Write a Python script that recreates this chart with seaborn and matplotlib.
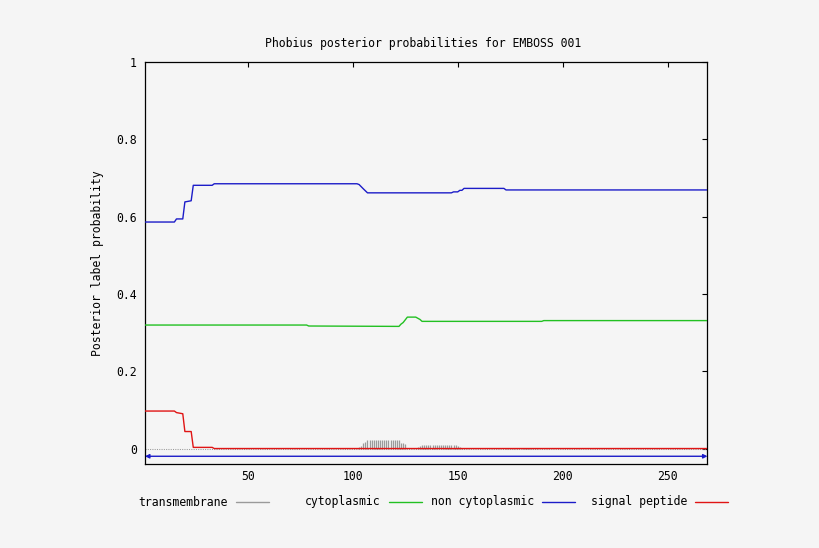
import matplotlib
matplotlib.use("Agg")
import matplotlib.pyplot as plt
import seaborn as sns
import pandas as pd
from matplotlib.lines import Line2D

# ---------------- data ----------------
seq_len = 269

sp_pos = [1, 15, 16, 19, 20, 23, 24, 33, 34, 269]
sp_val = [0.097, 0.097, 0.093, 0.090, 0.044, 0.044, 0.003, 0.003, 0.0, 0.0]

noncyto_pos = [1, 15, 16, 19, 20, 23, 24, 33, 34, 102, 103, 105, 107, 147, 148, 150,
               151, 152, 153, 172, 173, 269]
noncyto_val = [0.586, 0.586, 0.594, 0.594, 0.638, 0.641, 0.681, 0.681, 0.685, 0.685,
               0.683, 0.672, 0.6615, 0.6615, 0.664, 0.664, 0.668, 0.668, 0.673, 0.673,
               0.669, 0.669]

cyto_pos = [1, 78, 79, 122, 123, 124, 126, 130, 132, 133, 190, 191, 269]
cyto_val = [0.3195, 0.3195, 0.317, 0.316, 0.322, 0.326, 0.340, 0.340, 0.334, 0.329,
            0.329, 0.331, 0.331]

tm_pos = [103, 104, 105, 106, 107, 108, 109, 110, 111, 112, 113, 114, 115, 116, 117,
          118, 119, 120, 121, 122, 123, 124, 125,
          131, 132, 133, 134, 135, 136, 137, 138, 139, 140, 141, 142, 143, 144, 145,
          146, 147, 148, 149, 150, 151, 152,
          173, 174, 175, 176, 177, 178, 179, 181, 182, 183, 184, 185, 186, 187, 188]
tm_val = [0.004, 0.006, 0.015, 0.016, 0.022, 0.022, 0.022, 0.022, 0.022, 0.022, 0.022,
          0.022, 0.022, 0.022, 0.022, 0.022, 0.022, 0.022, 0.022, 0.022, 0.015, 0.015,
          0.013,
          0.003, 0.007, 0.008, 0.010, 0.010, 0.010, 0.010, 0.010, 0.010, 0.010, 0.010,
          0.010, 0.010, 0.010, 0.010, 0.010, 0.010, 0.009, 0.008, 0.007, 0.004, 0.002,
          0.002, 0.002, 0.002, 0.002, 0.002, 0.002, 0.002, 0.002, 0.002, 0.002, 0.002,
          0.002, 0.002, 0.002, 0.002]

x_ticks = [50, 100, 150, 200, 250]
y_ticks = [0, 0.2, 0.4, 0.6, 0.8, 1]
y_tick_labels = ["0", "0.2", "0.4", "0.6", "0.8", "1"]

legend_labels = ["transmembrane", "cytoplasmic", "non cytoplasmic", "signal peptide"]

title = "Phobius posterior probabilities for EMBOSS 001"
ylabel = "Posterior label probability"

# ---------------- style ----------------
BG = "#f5f5f5"
C_TM = "#9a9a9a"
C_CY = "#22c022"
C_NC = "#1c1cc8"
C_SP = "#e01414"
FS = 8.3

sns.set_theme(style="white")
plt.rcParams["font.family"] = ["DejaVu Sans Mono", "DejaVu Sans"]
plt.rcParams["axes.facecolor"] = BG
plt.rcParams["figure.facecolor"] = BG

W, H = 820, 548
fig = plt.figure(figsize=(W / 100, H / 100), dpi=100, facecolor=BG)
L, R, T, B = 145, 707.5, 62, 464
ax = fig.add_axes([L / W, 1 - B / H, (R - L) / W, (B - T) / H])
ax.set_facecolor(BG)

# baseline of zero-height impulses (dotted grey)
ax.axhline(0, color=C_TM, lw=0.75, ls=(0, (1, 1.2)), zorder=1)

# transmembrane impulses
ax.vlines(tm_pos, 0, tm_val, color=C_TM, lw=0.9, zorder=2)

df_cy = pd.DataFrame({"pos": cyto_pos, "p": cyto_val})
df_nc = pd.DataFrame({"pos": noncyto_pos, "p": noncyto_val})
df_sp = pd.DataFrame({"pos": sp_pos, "p": sp_val})
sns.lineplot(data=df_cy, x="pos", y="p", ax=ax, color=C_CY, lw=1.0, zorder=3)
sns.lineplot(data=df_nc, x="pos", y="p", ax=ax, color=C_NC, lw=1.0, zorder=3)
sns.lineplot(data=df_sp, x="pos", y="p", ax=ax, color=C_SP, lw=1.0, zorder=4)

# sequence-length arrow
ax.annotate("", xy=(seq_len, -0.02), xytext=(1, -0.02),
            arrowprops=dict(arrowstyle="<|-|>", color=C_NC, lw=1.0,
                            mutation_scale=6, shrinkA=0, shrinkB=0), zorder=5)

ax.set_xlim(1, seq_len)
ax.set_ylim(-0.04, 1)
ax.set_xticks(x_ticks)
ax.set_xticklabels([str(t) for t in x_ticks])
ax.set_yticks(y_ticks)
ax.set_yticklabels(y_tick_labels)
ax.tick_params(direction="in", top=True, right=True, length=3.6, width=0.8,
               labelsize=FS, colors="black")
ax.tick_params(axis="x", pad=4)
ax.tick_params(axis="y", pad=6)
for s in ax.spines.values():
    s.set_color("black")
    s.set_linewidth(0.9)
ax.set_xlabel("")
ax.set_ylabel("")

fig.text((L + R) / 2 / W - 0.004, 1 - 44 / H, title, ha="center", va="center",
         fontsize=FS, color="black")
fig.text(98 / W, 1 - 263 / H, ylabel, rotation=90, ha="center", va="center",
         fontsize=FS, color="black")

# legend (gnuplot style: right-justified text followed by sample)
colors = [C_TM, C_CY, C_NC, C_SP]
ly = 1 - 502 / H
for i, (lab, c) in enumerate(zip(legend_labels, colors)):
    x0 = 236 + 153 * i
    fig.text((x0 - 8) / W, ly, lab, ha="right", va="center", fontsize=FS,
             color="black")
    fig.add_artist(Line2D([x0 / W, (x0 + 33) / W], [ly, ly], color=c, lw=1.0,
                          transform=fig.transFigure))

fig.savefig("out.png", dpi=100, facecolor=BG)
